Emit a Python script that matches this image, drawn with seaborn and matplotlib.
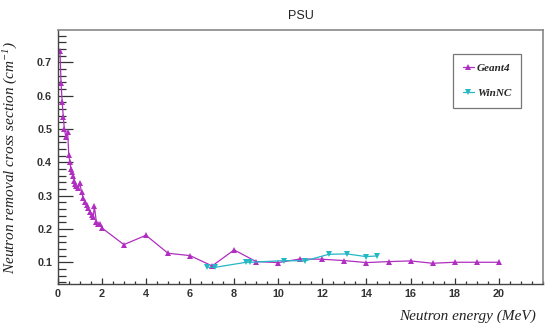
import matplotlib
matplotlib.use("Agg")
import matplotlib.pyplot as plt
from matplotlib.ticker import MultipleLocator
import pandas as pd
import seaborn as sns

# Geant4 simulation (MeV, cm^-1)
geant4_energy = [0.1, 0.15, 0.2, 0.25, 0.3, 0.37, 0.45, 0.5, 0.55, 0.6, 0.65, 0.7,
                 0.75, 0.8, 0.85, 0.93, 1.0, 1.08, 1.16, 1.23, 1.31, 1.38, 1.46,
                 1.54, 1.61, 1.66, 1.75, 1.84, 1.91, 2.0,
                 3, 4, 5, 6, 7, 8, 9, 10, 11, 12, 13, 14, 15, 16, 17, 18, 19, 20]
geant4_sigma = [0.735, 0.637, 0.582, 0.537, 0.50, 0.475, 0.49, 0.422, 0.40, 0.38, 0.37, 0.36,
                0.345, 0.335, 0.33, 0.322, 0.337, 0.31, 0.292, 0.282, 0.272, 0.262, 0.252,
                0.242, 0.236, 0.269, 0.221, 0.216, 0.214, 0.203,
                0.153, 0.181, 0.127, 0.12, 0.089, 0.137, 0.102, 0.099, 0.11, 0.109,
                0.105, 0.099, 0.102, 0.104, 0.097, 0.1, 0.1, 0.1]

# WinNC code
winnc_energy = [6.77, 7.15, 8.55, 8.73, 10.28, 11.2, 12.3, 13.12, 13.98, 14.5]
winnc_sigma = [0.085, 0.085, 0.1, 0.1, 0.105, 0.104, 0.124, 0.125, 0.117, 0.119]

g4 = pd.DataFrame({"E": geant4_energy, "sigma": geant4_sigma})
wn = pd.DataFrame({"E": winnc_energy, "sigma": winnc_sigma})

sns.set_style("white")
plt.rcParams["mathtext.fontset"] = "custom"
plt.rcParams["mathtext.rm"] = "Liberation Serif:italic"
plt.rcParams["mathtext.it"] = "Liberation Serif:italic"

fig = plt.figure(figsize=(5.5, 3.29), dpi=100)
ax = fig.add_axes([0.105, 0.137, 0.882, 0.772])

sns.lineplot(data=g4, x="E", y="sigma", ax=ax, sort=False, color="#b02ec0",
             marker="^", markersize=4.5, markeredgewidth=0, linewidth=0.9,
             label="Geant4")
sns.lineplot(data=wn, x="E", y="sigma", ax=ax, sort=False, color="#22b8c4",
             marker="v", markersize=4.5, markeredgewidth=0, linewidth=0.9,
             label="WinNC")

ax.set_xlim(0, 22)
ax.set_ylim(0.035, 0.797)
ax.xaxis.set_major_locator(MultipleLocator(2))
ax.xaxis.set_minor_locator(MultipleLocator(0.5))
ax.yaxis.set_major_locator(MultipleLocator(0.1))
ax.yaxis.set_minor_locator(MultipleLocator(0.02))
ax.set_xticks([0, 2, 4, 6, 8, 10, 12, 14, 16, 18, 20])
ax.set_yticks([0.1, 0.2, 0.3, 0.4, 0.5, 0.6, 0.7])

ax.tick_params(axis="y", which="both", left=True)
ax.tick_params(axis="x", which="both", bottom=True)
ax.tick_params(axis="y", which="major", direction="in", length=11, width=0.9,
               color="#333333", labelsize=7.8, labelcolor="#333333", pad=4)
ax.tick_params(axis="y", which="minor", direction="in", length=5.5, width=0.9,
               color="#333333")
ax.tick_params(axis="x", which="major", direction="in", length=4.5, width=0.9,
               color="#333333", labelsize=7.8, labelcolor="#333333", pad=4)
ax.tick_params(axis="x", which="minor", direction="in", length=2.5, width=0.9,
               color="#333333")
for lab in ax.get_xticklabels() + ax.get_yticklabels():
    lab.set_family("Liberation Sans")
    lab.set_fontweight("bold")

for side in ["left", "bottom"]:
    ax.spines[side].set_color("#444444")
    ax.spines[side].set_linewidth(1.0)
for side in ["top", "right"]:
    ax.spines[side].set_color("#888888")
    ax.spines[side].set_linewidth(1.2)

ax.set_xlabel("Neutron energy (MeV)", family="Liberation Serif", style="italic",
              fontsize=11, color="#222222")
ax.xaxis.set_label_coords(0.985, -0.10)
ax.xaxis.label.set_horizontalalignment("right")
ax.set_ylabel(r"Neutron removal cross section (cm$^{-1}$)", family="Liberation Serif",
              style="italic", fontsize=11, color="#222222")
ax.yaxis.set_label_coords(-0.078, 0.5)

fig.text(0.547, 0.97, "PSU", family="Liberation Sans", fontsize=9,
         ha="center", va="top", color="#222222")

leg = ax.legend(loc="upper right", bbox_to_anchor=(0.967, 0.929), frameon=True,
                fancybox=False, edgecolor="#555555", handlelength=1.0,
                handletextpad=0.3, labelspacing=1.3, borderpad=0.9,
                prop={"family": "Liberation Serif", "style": "italic",
                      "weight": "bold", "size": 8})
leg.get_frame().set_linewidth(0.9)

fig.savefig("out.png", dpi=100)
